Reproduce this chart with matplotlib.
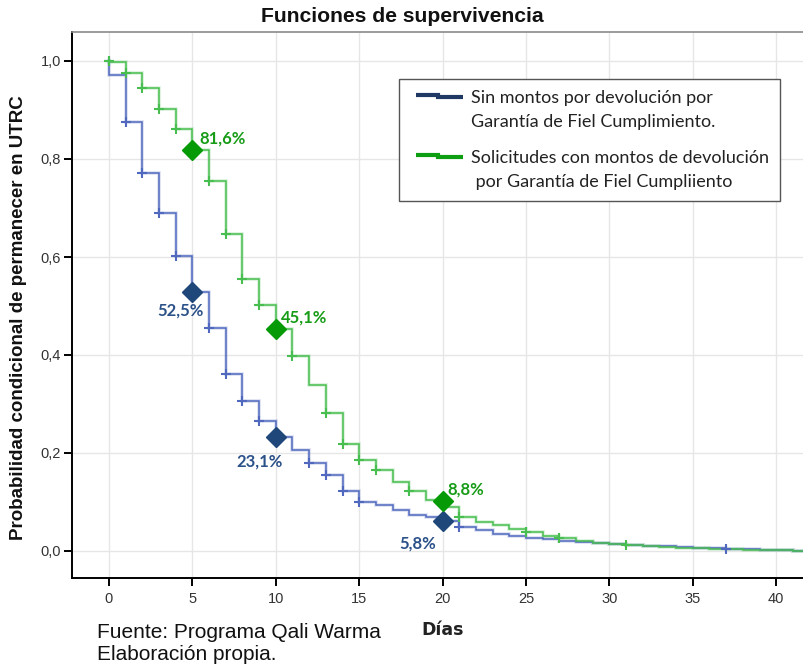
import matplotlib
matplotlib.use("Agg")
import matplotlib.pyplot as plt
import numpy as np
from matplotlib.legend_handler import HandlerBase
from matplotlib.lines import Line2D

# ---------------- data ----------------
days = list(range(0, 42))
blue_surv = [0.971, 0.875, 0.771, 0.690, 0.603, 0.529, 0.455, 0.361, 0.306, 0.265,
             0.233, 0.206, 0.180, 0.155, 0.123, 0.101, 0.094, 0.084, 0.073, 0.069,
             0.061, 0.049, 0.042, 0.034, 0.030, 0.027, 0.024, 0.021, 0.019, 0.017,
             0.015, 0.013, 0.011, 0.010, 0.009, 0.007, 0.006, 0.005, 0.004, 0.003,
             0.002, 0.001]
green_surv = [0.998, 0.975, 0.944, 0.903, 0.861, 0.818, 0.756, 0.647, 0.556, 0.503,
              0.454, 0.398, 0.339, 0.281, 0.218, 0.186, 0.165, 0.141, 0.122, 0.104,
              0.089, 0.069, 0.060, 0.053, 0.045, 0.038, 0.031, 0.026, 0.020, 0.017,
              0.014, 0.012, 0.010, 0.008, 0.007, 0.006, 0.005, 0.004, 0.003, 0.002,
              0.002, 0.001]
end_day = 42
blue_censor_days = [0, 1, 2, 3, 4, 6, 7, 8, 9, 12, 13, 14, 15, 21, 37]
green_censor_days = [0, 1, 2, 3, 4, 6, 7, 8, 9, 11, 13, 14, 15, 16, 18, 21, 25, 27, 31]

ann_days = [5, 10, 20]
blue_ann_vals = [0.529, 0.233, 0.062]
green_ann_vals = [0.818, 0.454, 0.102]
blue_ann_labels = ["52,5%", "23,1%", "5,8%"]
green_ann_labels = ["81,6%", "45,1%", "8,8%"]

legend_labels = ["Sin montos por devolución por\nGarantía de Fiel Cumplimiento.",
                 "Solicitudes con montos de devolución\n por Garantía de Fiel Cumpliiento"]
xticks = [0, 5, 10, 15, 20, 25, 30, 35, 40]
yticks = [0.0, 0.2, 0.4, 0.6, 0.8, 1.0]
ytick_labels = ["0,0", "0,2", "0,4", "0,6", "0,8", "1,0"]

# ---------------- colours ----------------
BLUE_LINE = "#5069BE"
GREEN_LINE = "#48BE50"
BLUE_DIAM = "#1F477A"
GREEN_DIAM = "#079A07"
BLUE_TXT = "#2B5189"
GREEN_TXT = "#179C17"
LEG_BLUE = "#1F3864"
LEG_GREEN = "#0E9E12"

W, H = 804, 667
fig = plt.figure(figsize=(W / 100, H / 100), dpi=100)
ax_l, ax_r, ax_t, ax_b = 72, 810, 32, 578
ax = fig.add_axes([ax_l / W, 1 - ax_b / H, (ax_r - ax_l) / W, (ax_b - ax_t) / H])

px_day = 16.68
ax.set_xlim((ax_l - 109) / px_day, (ax_r - 109) / px_day)
ax.set_ylim(-(ax_b - 551) / 490, (551 - ax_t) / 490)

# grid
ax.set_xticks(xticks)
ax.set_yticks(yticks)
ax.set_yticklabels(ytick_labels)
ax.grid(True, color="#e6e6e6", lw=1.0, zorder=0)
ax.set_axisbelow(True)

def curve(surv):
    xs = [0] + days + [end_day]
    ys = [1.0] + surv + [surv[-1]]
    return xs, ys

for surv, col, cens in [(blue_surv, BLUE_LINE, blue_censor_days),
                        (green_surv, GREEN_LINE, green_censor_days)]:
    xs, ys = curve(surv)
    ax.plot(xs, ys, drawstyle="steps-post", color=col, lw=2.6, alpha=0.22, zorder=2,
            solid_joinstyle="miter")
    ax.plot(xs, ys, drawstyle="steps-post", color=col, lw=1.1, zorder=3,
            solid_joinstyle="miter")
    cy = [1.0 if d == 0 else surv[d] for d in cens]
    ax.plot(cens, cy, ls="none", marker="+", ms=7.5, mew=1.5, color=col, zorder=4)

# annotation diamonds
ax.plot(ann_days, blue_ann_vals, ls="none", marker="D", ms=10.5, color=BLUE_DIAM, zorder=5)
ax.plot(ann_days, green_ann_vals, ls="none", marker="D", ms=10.5, color=GREEN_DIAM, zorder=5)

lab_font = dict(family="Lato", weight="bold", size=12)
green_offsets = [(7, 12), (5, 11), (5, 12)]
blue_offsets = [(-12, -19), (-16, -25), (-25, -23)]
for d, v, t, off in zip(ann_days, green_ann_vals, green_ann_labels, green_offsets):
    ax.annotate(t, (d, v), xytext=off, textcoords="offset pixels", ha="left",
                va="center", color=GREEN_TXT, **lab_font, zorder=6)
for d, v, t, off in zip(ann_days, blue_ann_vals, blue_ann_labels, blue_offsets):
    ax.annotate(t, (d, v), xytext=off, textcoords="offset pixels", ha="center",
                va="center", color=BLUE_TXT, **lab_font, zorder=6)

# spines / ticks
for s in ["left", "bottom"]:
    ax.spines[s].set_color("black")
    ax.spines[s].set_linewidth(1.4)
ax.spines["top"].set_color("#8a8a8a")
ax.spines["top"].set_linewidth(1.2)
ax.spines["right"].set_visible(False)
ax.tick_params(axis="both", direction="out", length=6, width=1.4, color="black",
               labelsize=10.5, labelcolor="#333333")
ax.tick_params(axis="x", pad=4)
ax.tick_params(axis="y", pad=2)
for lbl in ax.get_xticklabels() + ax.get_yticklabels():
    lbl.set_family("Liberation Sans")

# legend with step handles
class StepHandler(HandlerBase):
    def create_artists(self, legend, orig_handle, xdescent, ydescent, width, height,
                       fontsize, trans):
        x0, y0 = -xdescent + 4.5, -ydescent
        shift = 0.78 * fontsize
        ytop = y0 + 0.62 * height + shift
        ybot = y0 + 0.40 * height + shift
        xs = [x0, x0 + 0.45 * width, x0 + 0.45 * width, x0 + width]
        ys = [ytop, ytop, ybot, ybot]
        ln = Line2D(xs, ys, color=orig_handle.get_color(), lw=3.0,
                    solid_joinstyle="miter", solid_capstyle="butt")
        ln.set_transform(trans)
        return [ln]

h1 = Line2D([], [], color=LEG_BLUE)
h2 = Line2D([], [], color=LEG_GREEN)
leg = ax.legend([h1, h2], legend_labels, handler_map={Line2D: StepHandler()},
                loc="upper left", bbox_to_anchor=((399 - ax_l) / (ax_r - ax_l),
                                                  (ax_b - 79) / (ax_b - ax_t)),
                prop=dict(family="Lato", size=13), frameon=True, fancybox=False,
                edgecolor="#555555", framealpha=1, borderpad=0.62, handlelength=2.6,
                handletextpad=0.78, labelspacing=1.12, borderaxespad=0)
leg.get_frame().set_linewidth(1.0)
for t in leg.get_texts():
    t.set_linespacing(1.6)
    t.set_color("#222222")

# texts
fig.text(0.5, 1 - 17 / H, "Funciones de supervivencia", ha="center", va="center",
         family="Liberation Sans", weight="bold", size=15.2, color="#111111")
fig.text(19 / W, 1 - 318 / H, "Probabilidad condicional de permanecer en UTRC",
         rotation=90, ha="center", va="center", family="Liberation Sans",
         weight="bold", size=13.5, color="#111111")
fig.text(443 / W, 1 - 630 / H, "Días", ha="center", va="center",
         family="DejaVu Sans", weight="bold", size=12.5, color="#222222")
fig.text(97 / W, 1 - 632 / H, "Fuente: Programa Qali Warma", ha="left", va="center",
         family="Liberation Sans", size=15, color="#111111")
fig.text(97 / W, 1 - 655 / H, "Elaboración propia.", ha="left", va="center",
         family="Liberation Sans", size=15, color="#111111")

fig.savefig("out.png", dpi=100)
